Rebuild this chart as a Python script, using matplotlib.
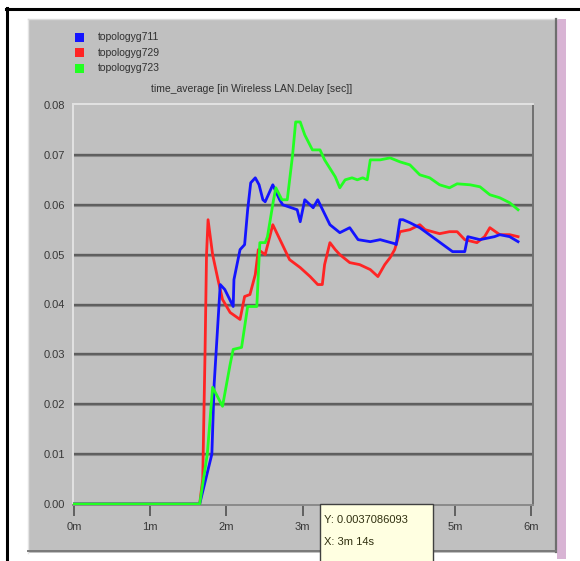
import matplotlib
matplotlib.use("Agg")
import matplotlib.pyplot as plt
from matplotlib.patches import Rectangle

plt.rcParams['font.family'] = ['Liberation Sans', 'DejaVu Sans']

# ---- data (x in minutes, y in seconds) ----
series_names = ["topologyg711", "topologyg729", "topologyg723"]
series_colors = ["#1414ff", "#ff2424", "#22ff22"]

blue_x = [0.0, 1.65, 1.81, 1.84, 1.92, 1.98, 2.09, 2.10, 2.18, 2.24, 2.28, 2.32, 2.38, 2.43, 2.48, 2.51,
          2.61, 2.70, 2.74, 2.93, 2.97, 3.03, 3.14, 3.20, 3.36, 3.49, 3.62, 3.73, 3.89, 4.02, 4.21, 4.23,
          4.28, 4.32, 4.41, 4.54, 4.97, 5.13, 5.17, 5.33, 5.52, 5.59, 5.72, 5.83]
blue_y = [0.0, 0.0, 0.010, 0.024, 0.044, 0.043, 0.0396, 0.045, 0.051, 0.052, 0.059, 0.0644, 0.0654, 0.064,
          0.061, 0.0606, 0.064, 0.061, 0.060, 0.059, 0.0566, 0.061, 0.0594, 0.061, 0.056, 0.0544, 0.0554,
          0.053, 0.0526, 0.053, 0.0522, 0.052, 0.057, 0.057, 0.0564, 0.0554, 0.0506, 0.0506, 0.0536, 0.053,
          0.0536, 0.054, 0.0536, 0.0526]

red_x = [0.0, 1.65, 1.69, 1.72, 1.74, 1.76, 1.82, 1.89, 1.95, 2.05, 2.18, 2.24, 2.31, 2.38, 2.42, 2.51,
         2.61, 2.72, 2.83, 2.97, 3.10, 3.20, 3.26, 3.29, 3.36, 3.43, 3.49, 3.62, 3.75, 3.89, 3.99, 4.08,
         4.15, 4.21, 4.28, 4.41, 4.54, 4.61, 4.80, 4.93, 5.03, 5.13, 5.29, 5.39, 5.46, 5.59, 5.72, 5.83]
red_y = [0.0, 0.0, 0.005, 0.030, 0.050, 0.057, 0.050, 0.045, 0.041, 0.0384, 0.037, 0.0416, 0.042, 0.046,
         0.051, 0.050, 0.056, 0.0525, 0.049, 0.0474, 0.0456, 0.044, 0.044, 0.048, 0.0524, 0.051, 0.050,
         0.0484, 0.048, 0.047, 0.0456, 0.048, 0.0494, 0.051, 0.0546, 0.055, 0.056, 0.055, 0.0542, 0.0546,
         0.0546, 0.053, 0.0524, 0.0536, 0.0554, 0.054, 0.054, 0.0536]

green_x = [0.0, 1.65, 1.75, 1.82, 1.95, 2.05, 2.09, 2.20, 2.28, 2.40, 2.44, 2.51, 2.54, 2.62, 2.65, 2.73,
           2.80, 2.87, 2.91, 2.97, 3.03, 3.13, 3.23, 3.29, 3.43, 3.49, 3.56, 3.65, 3.72, 3.79, 3.85, 3.89,
           4.02, 4.15, 4.28, 4.41, 4.54, 4.67, 4.80, 4.93, 5.03, 5.20, 5.33, 5.46, 5.59, 5.72, 5.83]
green_y = [0.0, 0.0, 0.010, 0.0234, 0.0196, 0.028, 0.031, 0.0314, 0.0396, 0.0396, 0.0524, 0.0524, 0.0536,
           0.061, 0.0634, 0.061, 0.061, 0.070, 0.0766, 0.0766, 0.074, 0.071, 0.071, 0.069, 0.0656, 0.0634,
           0.065, 0.0654, 0.065, 0.0654, 0.065, 0.069, 0.069, 0.0694, 0.0686, 0.068, 0.066, 0.0654, 0.064,
           0.0634, 0.0642, 0.064, 0.0636, 0.062, 0.0614, 0.0604, 0.059]

y_ticks = [0.00, 0.01, 0.02, 0.03, 0.04, 0.05, 0.06, 0.07, 0.08]
y_tick_labels = ["0.00", "0.01", "0.02", "0.03", "0.04", "0.05", "0.06", "0.07", "0.08"]
x_ticks = [0, 1, 2, 3, 4, 5, 6]
# the 4m label is hidden behind the tooltip in the original
x_tick_labels = ["0m", "1m", "2m", "3m", "", "5m", "6m"]
chart_title = "time_average [in Wireless LAN.Delay [sec]]"
tooltip_lines = ["Y: 0.0037086093", "X: 3m 14s"]

# ---- figure ----
W, H = 580, 561
fig = plt.figure(figsize=(W / 100, H / 100), dpi=100, facecolor="white")

# background layer in pixel coordinates
bg = fig.add_axes([0, 0, 1, 1], zorder=0)
bg.set_xlim(0, W)
bg.set_ylim(H, 0)
bg.axis("off")
bg.add_patch(Rectangle((28, 19), 529, 534, facecolor="#c0c0c0", edgecolor="none"))
bg.add_patch(Rectangle((557, 19), 9, 540, facecolor="#d8b4d4", edgecolor="none"))
bg.plot([28, 28], [19, 553], color="#e4e4e4", lw=1)
bg.plot([28, 557], [19, 19], color="#dcdcdc", lw=1)
bg.plot([556, 556], [19, 552], color="#6e6e6e", lw=1.6)
bg.plot([28, 556], [551, 551], color="#7a7a7a", lw=1.4)

# legend
for i, (name, col) in enumerate(zip(series_names, series_colors)):
    yy = 37 + i * 15.5
    bg.add_patch(Rectangle((75, yy - 4.5), 9, 9, facecolor=col, edgecolor="none"))
    bg.text(98, yy, name, fontsize=7.5, color="#303030", va="center", ha="left")
bg.text(252, 89, chart_title, fontsize=7.5, color="#303030", va="center", ha="center")

# plot axes
L, R, T, B = 73, 533, 104, 505
ax = fig.add_axes([L / W, (H - B) / H, (R - L) / W, (B - T) / H], zorder=1)
ax.set_facecolor("#c0c0c0")
ax.plot(red_x, red_y, color=series_colors[1], lw=2.0, solid_joinstyle="round", zorder=3)
ax.plot(blue_x, blue_y, color=series_colors[0], lw=2.0, solid_joinstyle="round", zorder=4)
ax.plot(green_x, green_y, color=series_colors[2], lw=2.0, solid_joinstyle="round", zorder=5)

ax.set_xlim(-1 / 76.2, 6 + 2 / 76.2)
ax.set_ylim(-0.0002, 0.0802)
ax.set_yticks(y_ticks)
ax.set_yticklabels(y_tick_labels)
ax.set_xticks(x_ticks)
ax.set_xticklabels(x_tick_labels)
ax.tick_params(axis="y", length=0, pad=6, labelsize=8, labelcolor="#383838")
ax.tick_params(axis="x", direction="out", length=8, width=1.2, color="#505050",
               pad=4, labelsize=8, labelcolor="#383838")
for yv in y_ticks[1:-1]:
    ax.axhline(yv, color="#5e5e5e", lw=1.7, zorder=1)
    ax.axhline(yv - 0.00022, color="#8a8a8a", lw=0.8, zorder=1)
ax.spines["left"].set_color("#e2e2e2")
ax.spines["top"].set_color("#e2e2e2")
ax.spines["right"].set_color("#707070")
ax.spines["bottom"].set_color("#8a8a8a")
for s in ax.spines.values():
    s.set_linewidth(1.4)

# overlay: tooltip and outer black border
ov = fig.add_axes([0, 0, 1, 1], zorder=5)
ov.set_xlim(0, W)
ov.set_ylim(H, 0)
ov.axis("off")
ov.patch.set_alpha(0)
ov.add_patch(Rectangle((320, 504), 113, 60, facecolor="#ffffe1", edgecolor="#404040", lw=1))
ov.text(324, 520, tooltip_lines[0], fontsize=8, color="#303010", va="center", ha="left")
ov.text(324, 542, tooltip_lines[1], fontsize=8, color="#303010", va="center", ha="left")
ov.plot([7, 7], [8, H], color="black", lw=2.2)
ov.plot([6, W], [9, 9], color="black", lw=2.2)

fig.savefig("out.png", dpi=100, facecolor="white")
